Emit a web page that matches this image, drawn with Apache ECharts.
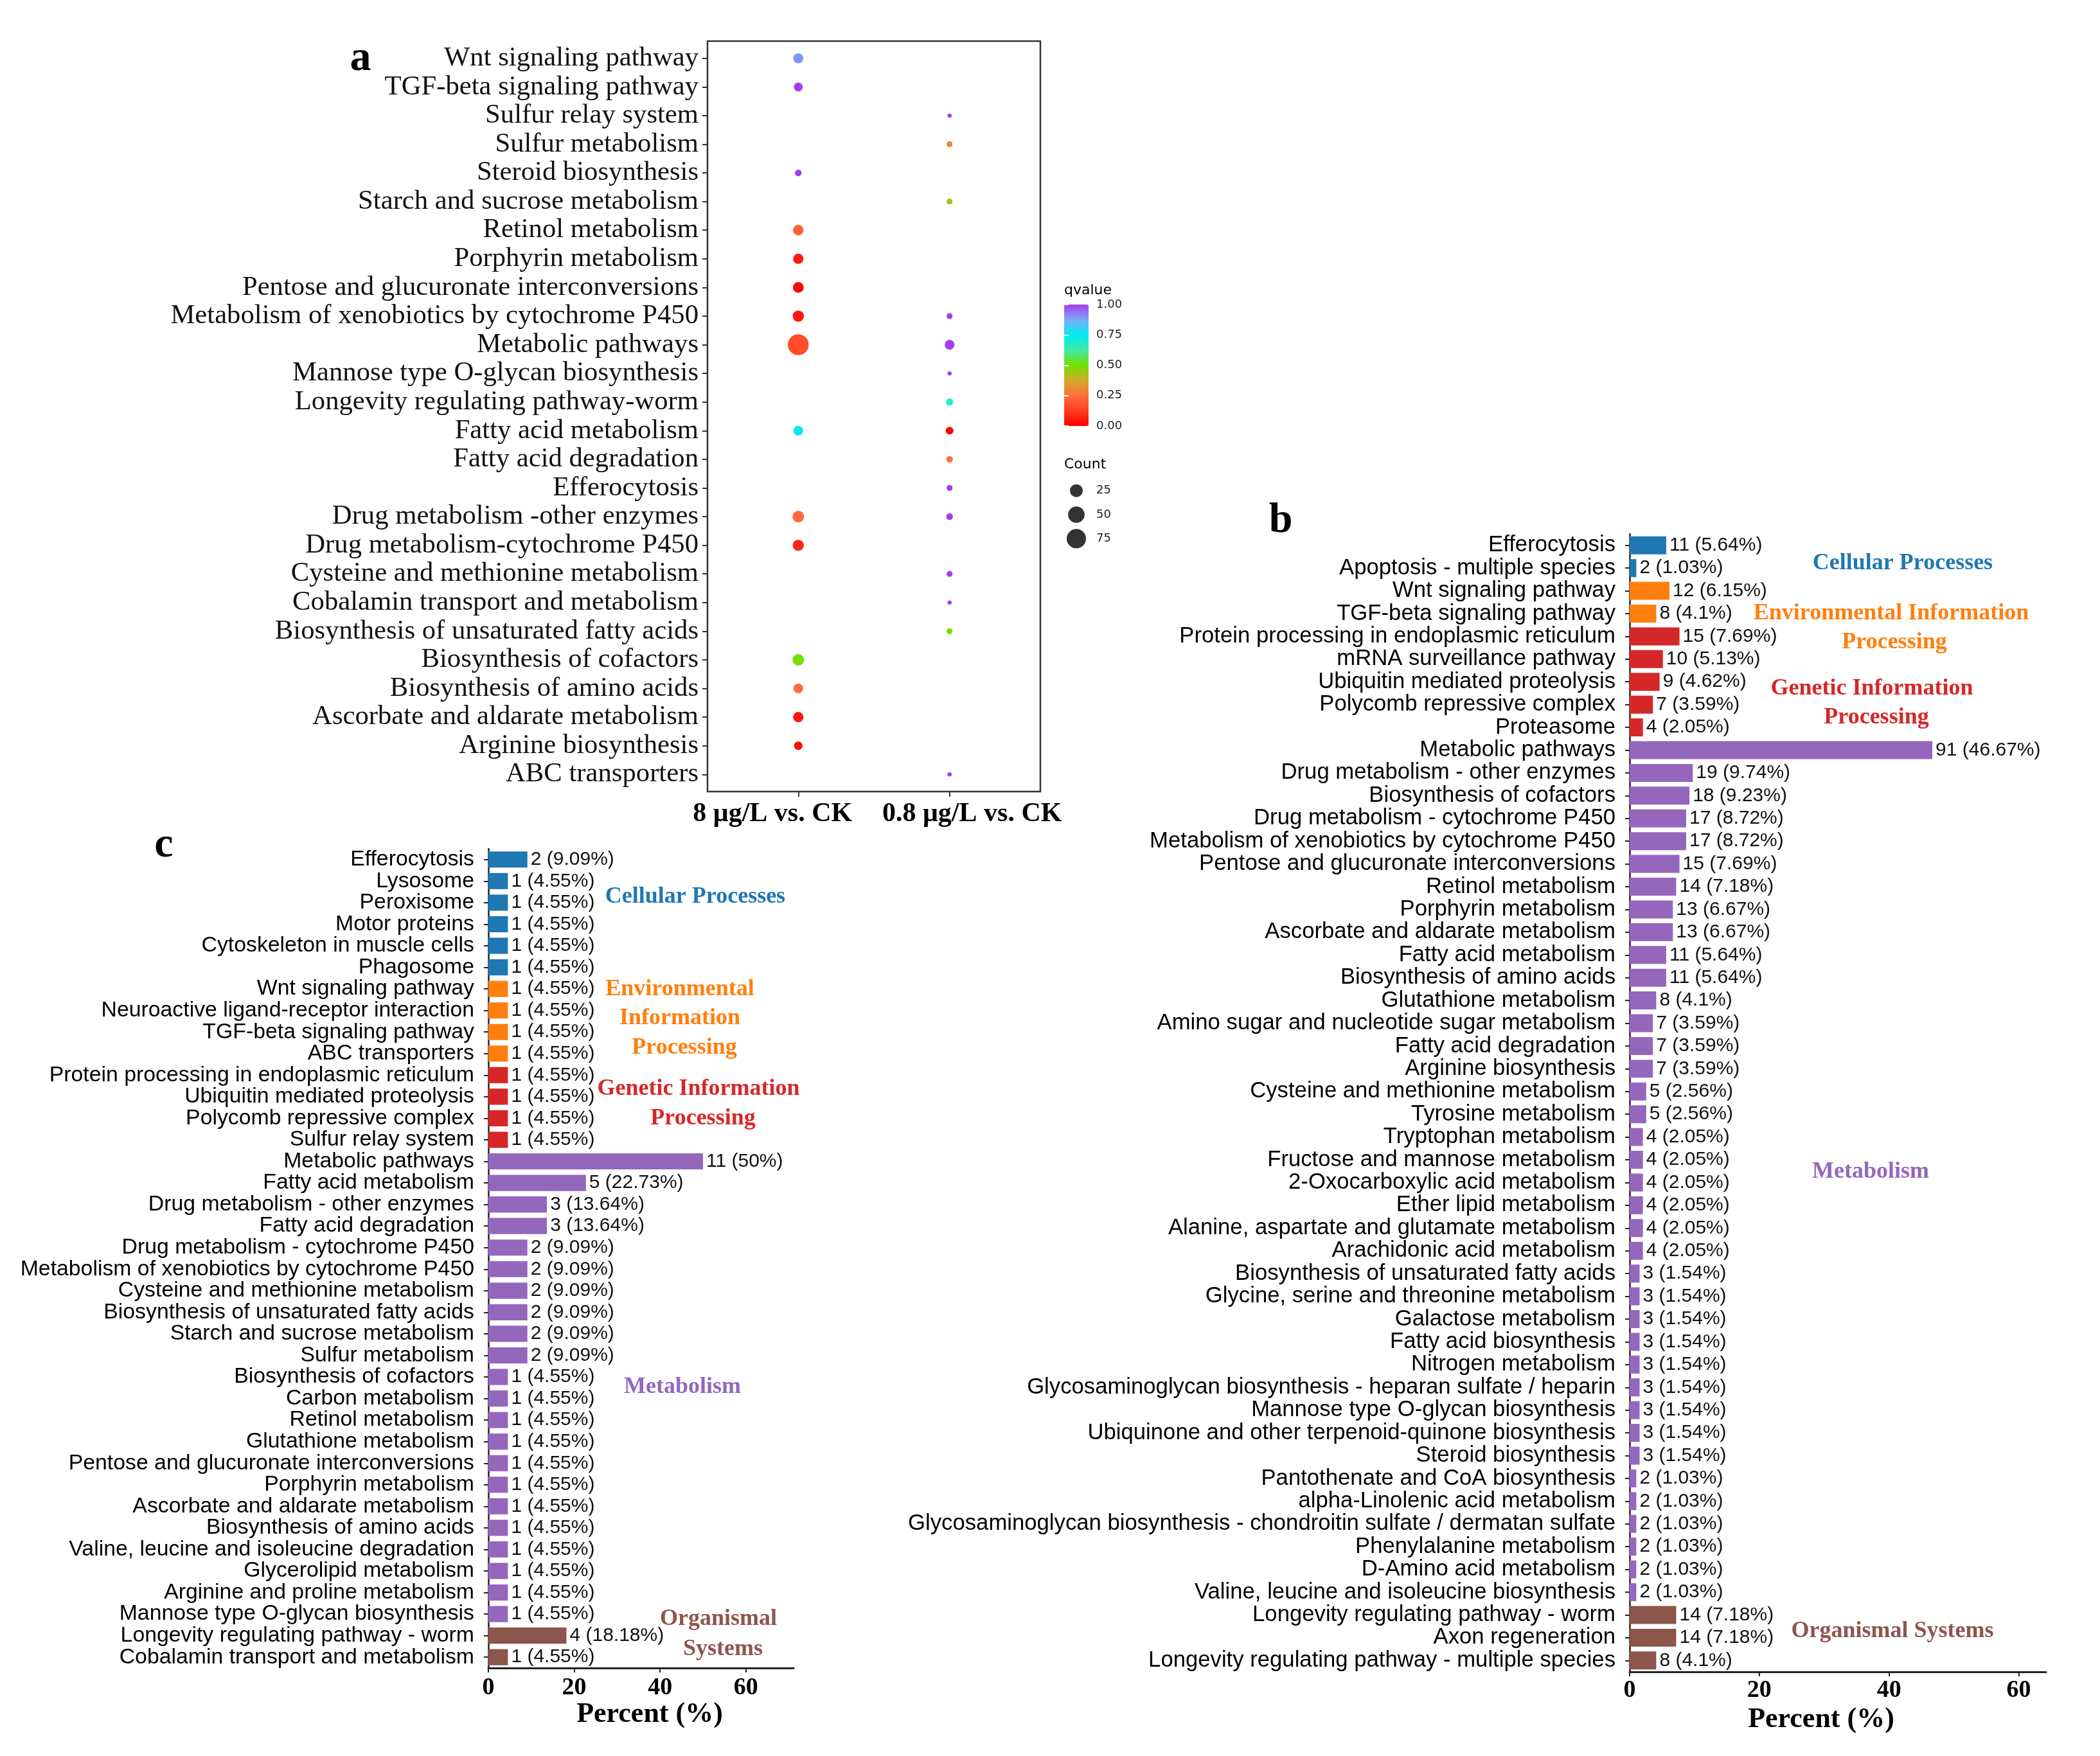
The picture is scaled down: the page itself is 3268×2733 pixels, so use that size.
<!DOCTYPE html>
<html>
<head>
<meta charset="utf-8">
<script src="https://cdn.jsdelivr.net/npm/echarts@6/dist/echarts.min.js"></script>
<style>
html,body{margin:0;padding:0;background:#fff;}
#chart{width:3268px;height:2733px;}
</style>
</head>
<body>
<div id="chart"></div>
<script>
// ---------------- Panel a: dot plot ----------------
var catsA = ['Wnt signaling pathway','TGF-beta signaling pathway','Sulfur relay system','Sulfur metabolism','Steroid biosynthesis','Starch and sucrose metabolism','Retinol metabolism','Porphyrin metabolism','Pentose and glucuronate interconversions','Metabolism of xenobiotics by cytochrome P450','Metabolic pathways','Mannose type O-glycan biosynthesis','Longevity regulating pathway-worm','Fatty acid metabolism','Fatty acid degradation','Efferocytosis','Drug metabolism -other enzymes','Drug metabolism-cytochrome P450','Cysteine and methionine metabolism','Cobalamin transport and metabolism','Biosynthesis of unsaturated fatty acids','Biosynthesis of cofactors','Biosynthesis of amino acids','Ascorbate and aldarate metabolism','Arginine biosynthesis','ABC transporters'];
var colsA = ['8 \u03bcg/L vs. CK','0.8 \u03bcg/L vs. CK'];
var q8     = [0.9,1.0,null,null,1.0,null,0.22,0.05,0.01,0.05,0.17,null,null,0.76,null,null,0.24,0.08,null,null,null,0.5,0.24,0.04,0.02,null];
var count8 = [12,8,null,null,3,null,14,13,15,17,91,null,null,11,null,null,19,17,null,null,null,18,11,13,7,null];
var q08     = [null,null,1.0,0.3,null,0.42,null,null,null,1.0,1.0,1.0,0.68,0.01,0.25,1.0,1.0,null,1.0,1.0,0.5,null,null,null,null,1.0];
var count08 = [null,null,1,2,null,2,null,null,null,2,11,1,4,5,3,2,3,null,2,1,2,null,null,null,null,1];
var qTicks = [0,0.25,0.5,0.75,1];
var countLegend = [25,50,75];

// ---------------- Panel b: bars ----------------
var catsB = ['Efferocytosis','Apoptosis - multiple species','Wnt signaling pathway','TGF-beta signaling pathway','Protein processing in endoplasmic reticulum','mRNA surveillance pathway','Ubiquitin mediated proteolysis','Polycomb repressive complex','Proteasome','Metabolic pathways','Drug metabolism - other enzymes','Biosynthesis of cofactors','Drug metabolism - cytochrome P450','Metabolism of xenobiotics by cytochrome P450','Pentose and glucuronate interconversions','Retinol metabolism','Porphyrin metabolism','Ascorbate and aldarate metabolism','Fatty acid metabolism','Biosynthesis of amino acids','Glutathione metabolism','Amino sugar and nucleotide sugar metabolism','Fatty acid degradation','Arginine biosynthesis','Cysteine and methionine metabolism','Tyrosine metabolism','Tryptophan metabolism','Fructose and mannose metabolism','2-Oxocarboxylic acid metabolism','Ether lipid metabolism','Alanine, aspartate and glutamate metabolism','Arachidonic acid metabolism','Biosynthesis of unsaturated fatty acids','Glycine, serine and threonine metabolism','Galactose metabolism','Fatty acid biosynthesis','Nitrogen metabolism','Glycosaminoglycan biosynthesis - heparan sulfate / heparin','Mannose type O-glycan biosynthesis','Ubiquinone and other terpenoid-quinone biosynthesis','Steroid biosynthesis','Pantothenate and CoA biosynthesis','alpha-Linolenic acid metabolism','Glycosaminoglycan biosynthesis - chondroitin sulfate / dermatan sulfate','Phenylalanine metabolism','D-Amino acid metabolism','Valine, leucine and isoleucine biosynthesis','Longevity regulating pathway - worm','Axon regeneration','Longevity regulating pathway - multiple species'];
var countsB = [11,2,12,8,15,10,9,7,4,91,19,18,17,17,15,14,13,13,11,11,8,7,7,7,5,5,4,4,4,4,4,4,3,3,3,3,3,3,3,3,3,2,2,2,2,2,2,14,14,8];
var pctB = [5.64,1.03,6.15,4.1,7.69,5.13,4.62,3.59,2.05,46.67,9.74,9.23,8.72,8.72,7.69,7.18,6.67,6.67,5.64,5.64,4.1,3.59,3.59,3.59,2.56,2.56,2.05,2.05,2.05,2.05,2.05,2.05,1.54,1.54,1.54,1.54,1.54,1.54,1.54,1.54,1.54,1.03,1.03,1.03,1.03,1.03,1.03,7.18,7.18,4.1];
var groupB = ['C','C','E','E','G','G','G','G','G','M','M','M','M','M','M','M','M','M','M','M','M','M','M','M','M','M','M','M','M','M','M','M','M','M','M','M','M','M','M','M','M','M','M','M','M','M','M','O','O','O'];
var xTicksB = [0,20,40,60];

// ---------------- Panel c: bars ----------------
var catsC = ['Efferocytosis','Lysosome','Peroxisome','Motor proteins','Cytoskeleton in muscle cells','Phagosome','Wnt signaling pathway','Neuroactive ligand-receptor interaction','TGF-beta signaling pathway','ABC transporters','Protein processing in endoplasmic reticulum','Ubiquitin mediated proteolysis','Polycomb repressive complex','Sulfur relay system','Metabolic pathways','Fatty acid metabolism','Drug metabolism - other enzymes','Fatty acid degradation','Drug metabolism - cytochrome P450','Metabolism of xenobiotics by cytochrome P450','Cysteine and methionine metabolism','Biosynthesis of unsaturated fatty acids','Starch and sucrose metabolism','Sulfur metabolism','Biosynthesis of cofactors','Carbon metabolism','Retinol metabolism','Glutathione metabolism','Pentose and glucuronate interconversions','Porphyrin metabolism','Ascorbate and aldarate metabolism','Biosynthesis of amino acids','Valine, leucine and isoleucine degradation','Glycerolipid metabolism','Arginine and proline metabolism','Mannose type O-glycan biosynthesis','Longevity regulating pathway - worm','Cobalamin transport and metabolism'];
var countsC = [2,1,1,1,1,1,1,1,1,1,1,1,1,1,11,5,3,3,2,2,2,2,2,2,1,1,1,1,1,1,1,1,1,1,1,1,4,1];
var pctC = [9.09,4.55,4.55,4.55,4.55,4.55,4.55,4.55,4.55,4.55,4.55,4.55,4.55,4.55,50,22.73,13.64,13.64,9.09,9.09,9.09,9.09,9.09,9.09,4.55,4.55,4.55,4.55,4.55,4.55,4.55,4.55,4.55,4.55,4.55,4.55,18.18,4.55];
var groupC = ['C','C','C','C','C','C','E','E','E','E','G','G','G','G','M','M','M','M','M','M','M','M','M','M','M','M','M','M','M','M','M','M','M','M','M','M','O','O'];
var xTicksC = [0,20,40,60];

// ---------------- styling ----------------
var groupColor = {C:'#1f77b4',E:'#ff7f0e',G:'#d62728',M:'#9467bd',O:'#8c564b'};
var SERIF = 'Liberation Serif', SANS = 'Liberation Sans', DJV = 'DejaVu Sans';

var allCounts = count8.concat(count08).filter(function(v){return v!=null;});
var cMin = Math.min.apply(null, allCounts), cMax = Math.max.apply(null, allCounts);
function sizeOf(c){ return 6.5 + 26*Math.sqrt(Math.max(0,(c-cMin))/(cMax-cMin)); }

var dotData = [];
for (var i=0;i<catsA.length;i++){
  if (count8[i]!=null) dotData.push([1, i+1, q8[i], count8[i]]);
  if (count08[i]!=null) dotData.push([2, i+1, q08[i], count08[i]]);
}
var rowTicks = catsA.map(function(_,i){return i+1;});

function barData(pcts, groups){
  return pcts.map(function(p,i){ return {value:p, itemStyle:{color:groupColor[groups[i]]}}; });
}

var chart = echarts.init(document.getElementById('chart'), null, {renderer:'canvas', width:3268, height:2733});

function groupText(txt, x, y, g){
  return {type:'text', x:x, y:y, style:{text:txt, fill:groupColor[g], font:'bold 36px "Liberation Serif"', align:'center', verticalAlign:'middle'}};
}
function plainText(txt, x, y, font, align){
  return {type:'text', x:x, y:y, style:{text:txt, fill:'#000', font:font, align:align||'center', verticalAlign:'middle'}};
}

var option = {
  animation:false,
  backgroundColor:'#fff',
  grid:[
    {left:1101, top:64, width:518, height:1168, show:true, borderColor:'#333', borderWidth:2.5, backgroundColor:'transparent', outerBoundsMode:'none'},
    {left:2536, top:831, width:648, height:1771, outerBoundsMode:'none'},
    {left:760, top:1321, width:475, height:1275, outerBoundsMode:'none'},
    {left:1656, top:474, width:38, height:189, outerBoundsMode:'none'},
    {left:1656, top:745, width:38, height:112, outerBoundsMode:'none'}
  ],
  xAxis:[
    {gridIndex:0, type:'value', min:0.4, max:2.6, splitLine:{show:false}, axisLine:{show:false},
     axisTick:{show:true, customValues:[1,2], length:8, lineStyle:{color:'#333', width:2}},
     axisLabel:{customValues:[1,2], margin:14, color:'#000', fontFamily:SERIF, fontWeight:'bold', fontSize:42,
       formatter:function(v){ return v<1.5 ? '{l|'+colsA[0]+'}' : '{r|'+colsA[1]+'}'; },
       rich:{l:{fontFamily:SERIF, fontWeight:'bold', fontSize:42, color:'#000', padding:[0,80,0,0]},
             r:{fontFamily:SERIF, fontWeight:'bold', fontSize:42, color:'#000', padding:[0,0,0,70]}}}},
    {gridIndex:1, type:'value', min:0, max:64.2, splitLine:{show:false},
     axisLine:{show:true, lineStyle:{color:'#222', width:3}},
     axisTick:{show:true, customValues:xTicksB, length:7, lineStyle:{color:'#222', width:2}},
     axisLabel:{customValues:xTicksB, margin:10, color:'#000', fontFamily:SERIF, fontWeight:'bold', fontSize:38},
     name:'Percent (%)', nameLocation:'middle', nameGap:38,
     nameTextStyle:{fontFamily:SERIF, fontWeight:'bold', fontSize:44, color:'#000', padding:[0,52,0,0]}},
    {gridIndex:2, type:'value', min:0, max:71.1, splitLine:{show:false},
     axisLine:{show:true, lineStyle:{color:'#222', width:3}},
     axisTick:{show:true, customValues:xTicksC, length:7, lineStyle:{color:'#222', width:2}},
     axisLabel:{customValues:xTicksC, margin:12, color:'#000', fontFamily:SERIF, fontWeight:'bold', fontSize:38},
     name:'Percent (%)', nameLocation:'middle', nameGap:48,
     nameTextStyle:{fontFamily:SERIF, fontWeight:'bold', fontSize:44, color:'#000', padding:[0,0,0,27]}},
    {gridIndex:3, type:'value', min:0, max:1, show:false},
    {gridIndex:4, type:'value', min:-1, max:1, show:false}
  ],
  yAxis:[
    {gridIndex:0, type:'value', min:0.4, max:26.6, inverse:true, splitLine:{show:false}, axisLine:{show:false},
     axisTick:{show:true, customValues:rowTicks, length:8, lineStyle:{color:'#333', width:2}},
     axisLabel:{customValues:rowTicks, margin:14, color:'#111', fontFamily:SERIF, fontSize:42.7,
       formatter:function(v){ return catsA[Math.round(v)-1] || ''; }}},
    {gridIndex:1, type:'category', data:catsB, inverse:true,
     axisLine:{show:true, lineStyle:{color:'#222', width:2.5}},
     axisTick:{show:true, alignWithLabel:true, length:7, lineStyle:{color:'#222', width:2}},
     axisLabel:{interval:0, margin:22, color:'#000', fontFamily:SANS, fontSize:34.7}},
    {gridIndex:2, type:'category', data:catsC, inverse:true,
     axisLine:{show:true, lineStyle:{color:'#222', width:2.5}},
     axisTick:{show:true, alignWithLabel:true, length:7, lineStyle:{color:'#222', width:2}},
     axisLabel:{interval:0, margin:22, color:'#000', fontFamily:SANS, fontSize:33.8}},
    {gridIndex:3, type:'value', min:0, max:1, position:'right', z:10, splitLine:{show:false}, axisLine:{show:false},
     axisTick:{show:true, inside:true, customValues:qTicks, length:7, lineStyle:{color:'#fff', width:2}},
     axisLabel:{customValues:qTicks, margin:12, color:'#222', fontFamily:DJV, fontSize:18,
       formatter:function(v){ return v.toFixed(2); }}},
    {gridIndex:3, type:'value', min:0, max:1, position:'left', z:10, splitLine:{show:false}, axisLine:{show:false},
     axisTick:{show:true, inside:true, customValues:qTicks, length:7, lineStyle:{color:'#fff', width:2}},
     axisLabel:{show:false}},
    {gridIndex:4, type:'category', data:countLegend.map(String), inverse:true, position:'right',
     axisLine:{show:false}, axisTick:{show:false},
     axisLabel:{margin:12, color:'#222', fontFamily:DJV, fontSize:18}}
  ],
  visualMap:[{
    type:'continuous', min:0, max:1, dimension:2, seriesIndex:0, calculable:false,
    orient:'vertical', left:1656, top:474, itemWidth:38, itemHeight:189, padding:0,
    hoverLink:false,
    inRange:{color:['#ff0000','#ff3c1e','#ff6e3c','#d2a82a','#72e000','#3eeaa8','#00eef2','#7caaf6','#a43cf2']}
  }],
  series:[
    {type:'scatter', xAxisIndex:0, yAxisIndex:0, data:dotData,
     symbolSize:function(v){ return sizeOf(v[3]); }, itemStyle:{opacity:1}},
    {type:'bar', xAxisIndex:1, yAxisIndex:1, data:barData(pctB, groupB), barWidth:'79%',
     label:{show:true, position:'right', distance:5, fontFamily:SANS, fontSize:30, color:'#111',
       formatter:function(p){ return countsB[p.dataIndex]+' ('+pctB[p.dataIndex]+'%)'; }}},
    {type:'bar', xAxisIndex:2, yAxisIndex:2, data:barData(pctC, groupC), barWidth:'75%',
     label:{show:true, position:'right', distance:5, fontFamily:SANS, fontSize:30, color:'#111',
       formatter:function(p){ return countsC[p.dataIndex]+' ('+pctC[p.dataIndex]+'%)'; }}},
    {type:'scatter', xAxisIndex:4, yAxisIndex:5,
     data:countLegend.map(function(c,i){ return [0, i, c]; }),
     symbolSize:function(v){ return sizeOf(v[2]); }, itemStyle:{color:'#000'}}
  ],
  graphic:[
    plainText('a', 561, 92, 'bold 66px "Liberation Serif"'),
    plainText('b', 1993, 811, 'bold 66px "Liberation Serif"'),
    plainText('c', 255, 1316, 'bold 66px "Liberation Serif"'),
    plainText('qvalue', 1656, 452, '22px "DejaVu Sans"', 'left'),
    plainText('Count', 1656, 723, '22px "DejaVu Sans"', 'left'),
    groupText('Cellular Processes', 2961, 877, 'C'),
    groupText('Environmental Information', 2943, 955, 'E'),
    groupText('Processing', 2948, 1000, 'E'),
    groupText('Genetic Information', 2913, 1072, 'G'),
    groupText('Processing', 2920, 1117, 'G'),
    groupText('Metabolism', 2911, 1824, 'M'),
    groupText('Organismal Systems', 2945, 2539, 'O'),
    groupText('Cellular Processes', 1082, 1396, 'C'),
    groupText('Environmental', 1058, 1540, 'E'),
    groupText('Information', 1058, 1585, 'E'),
    groupText('Processing', 1065, 1631, 'E'),
    groupText('Genetic Information', 1087, 1695, 'G'),
    groupText('Processing', 1094, 1741, 'G'),
    groupText('Metabolism', 1062, 2159, 'M'),
    groupText('Organismal', 1118, 2520, 'O'),
    groupText('Systems', 1125, 2567, 'O')
  ]
};
chart.setOption(option);
</script>
</body>
</html>
